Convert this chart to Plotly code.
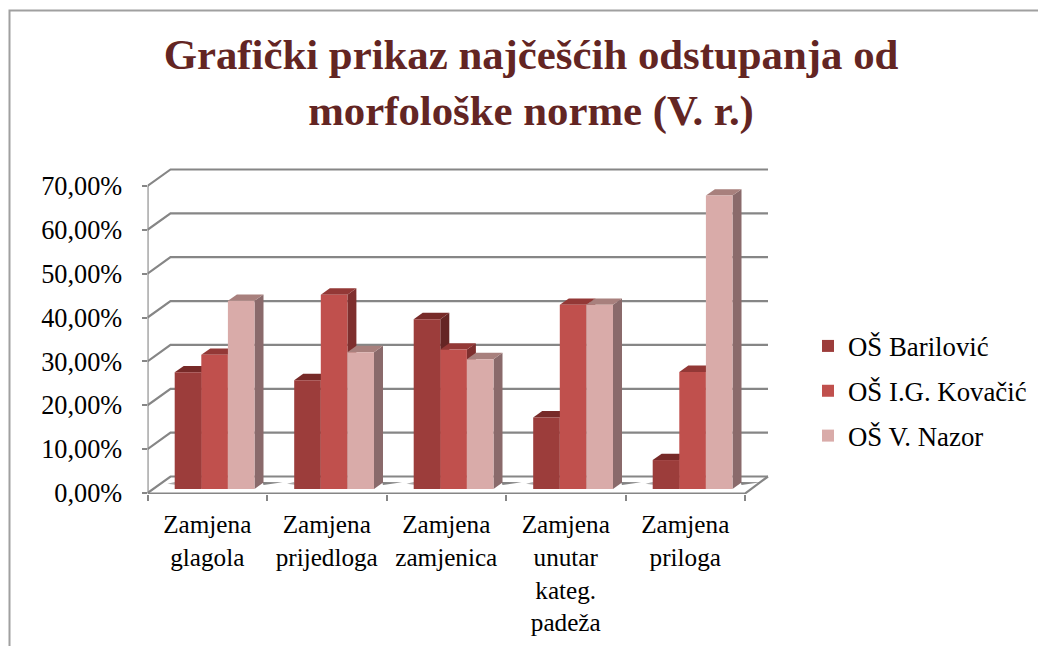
import plotly.graph_objects as go

W, H = 1038, 646

categories = ["Zamjena<br>glagola", "Zamjena<br>prijedloga", "Zamjena<br>zamjenica",
              "Zamjena<br>unutar<br>kateg.<br>padeža", "Zamjena<br>priloga"]
series_names = ["OŠ Barilović", "OŠ I.G. Kovačić", "OŠ V. Nazor"]
barilovic = [26.6, 24.8, 38.7, 16.3, 6.6]
kovacic = [30.6, 44.3, 31.8, 42.0, 26.7]
nazor = [42.9, 31.2, 29.6, 42.0, 66.9]
y_ticks = [0, 10, 20, 30, 40, 50, 60, 70]
y_tick_labels = ["0,00%", "10,00%", "20,00%", "30,00%", "40,00%", "50,00%", "60,00%", "70,00%"]

front_colors = ["#9C3D3B", "#C0504D", "#D9ABA9"]
top_colors = ["#772A28", "#933836", "#A8807D"]
side_colors = ["#652524", "#7E2F2E", "#8A6A6B"]
GRID = "#868686"
SERIF = "Liberation Serif"

# Plot frame in pixels, converted to axis units
X0_PX, PX_PER_CAT = 147.5, 119.5
Y0_PX, PX_PER_UNIT = 493.0, 4.386
LEFT, RIGHT, TOP, BOTTOM = 147.5, 775.0, 165.0, 494.0
x_range = [0, (RIGHT - LEFT) / PX_PER_CAT]
y_range = [(Y0_PX - BOTTOM) / PX_PER_UNIT, (Y0_PX - TOP) / PX_PER_UNIT]

DX = 23.0 / PX_PER_CAT     # wall depth
DY = 16.5 / PX_PER_UNIT
BAR_L = 27.2 / PX_PER_CAT  # first bar left edge inside a category
BAR_W = 26.6 / PX_PER_CAT
BASE = 4.0 / PX_PER_UNIT   # bar front baseline
BDX = 9.0 / PX_PER_CAT     # bar depth
BDY = 6.4 / PX_PER_UNIT

fig = go.Figure()
n_cat = len(categories)
all_series = [barilovic, kovacic, nazor]


def poly(xs, ys, color):
    fig.add_trace(go.Scatter(x=xs, y=ys, mode="lines", fill="toself", fillcolor=color,
                             line=dict(width=0, color=color), hoverinfo="skip", showlegend=False))


def lines(xs, ys, width=2.2):
    fig.add_trace(go.Scatter(x=xs, y=ys, mode="lines", line=dict(color=GRID, width=width),
                             hoverinfo="skip", showlegend=False))


# walls and floor
gx, gy = [], []
for v in y_ticks:
    gx += [0, DX, 5 + DX, None]
    gy += [v, v + DY, v + DY, None]
lines(gx, gy)
lines([0, 0, None, 0, 5, 5 + DX], [0, 70, None, y_range[0] + 0.1, y_range[0] + 0.1, DY])

# floor shadows
for c in range(n_cat):
    r = c + BAR_L + 3 * BAR_W
    l = c + BAR_L
    poly([r + BDX, r + BDX + 0.16, r + BDX * 0.9], [BASE + 0.9, BASE + 1.55, BASE + 1.6], "rgba(90,90,90,0.75)")
    poly([l - 0.06, l, l + 0.02], [BASE + 1.2, BASE + 1.6, BASE + 0.9], "rgba(120,120,120,0.6)")

# bar sides and tops, painted left to right
for c in range(n_cat):
    for s, vals in enumerate(all_series):
        v = vals[c]
        left = c + BAR_L + s * BAR_W
        right = left + BAR_W
        top = BASE + v
        poly([right, right + BDX, right + BDX, right, right],
             [BASE, BASE + BDY, top + BDY, top, BASE], side_colors[s])
        poly([left, left + BDX, right + BDX, right, left],
             [top, top + BDY, top + BDY, top, top], top_colors[s])

# bar front faces, on overlay axes so they sit above every side and top
for s, vals in enumerate(all_series):
    fig.add_trace(go.Bar(
        x=[c + BAR_L + (s + 0.5) * BAR_W for c in range(n_cat)],
        y=vals, base=BASE, width=BAR_W, name=series_names[s],
        marker=dict(color=front_colors[s], line=dict(width=0)),
        xaxis="x2", yaxis="y2", legendgroup=series_names[s],
    ))

fig.update_layout(
    width=W, height=H, margin=dict(l=0, r=0, t=0, b=0, autoexpand=False), autosize=False,
    paper_bgcolor="white", plot_bgcolor="rgba(0,0,0,0)",
    font=dict(family=SERIF, color="black", size=26),
    title=dict(text="Grafički prikaz najčešćih odstupanja od<br>morfološke norme (V. r.)",
               font=dict(family=SERIF, size=42.8, color="#632523", weight="bold"),
               x=531 / W, xanchor="center", y=1 - 69 / H, yanchor="top"),
    xaxis=dict(domain=[LEFT / W, RIGHT / W], range=x_range, showgrid=False, zeroline=False,
               showline=False, tickmode="array", tickvals=[0, 1, 2, 3, 4, 5], ticktext=[""] * 6,
               ticks="outside", ticklen=6, tickwidth=2, tickcolor=GRID, automargin=False),
    yaxis=dict(domain=[1 - BOTTOM / H, 1 - TOP / H], range=y_range, showgrid=False, zeroline=False,
               showline=False, tickmode="array", tickvals=y_ticks, ticktext=y_tick_labels,
               ticks="outside", ticklen=5, tickwidth=2, tickcolor=GRID, ticklabelstandoff=14,
               tickfont=dict(family=SERIF, size=26.3, color="black"), automargin=False),
    xaxis2=dict(domain=[LEFT / W, RIGHT / W], range=x_range, overlaying="x", anchor="y2", showgrid=False,
                zeroline=False, showline=False, tickmode="array",
                tickvals=[i + 0.5 for i in range(n_cat)], ticktext=categories, ticks="",
                ticklabelstandoff=13, side="bottom", tickangle=0, automargin=False,
                tickfont=dict(family=SERIF, size=25.2, color="black")),
    yaxis2=dict(domain=[1 - BOTTOM / H, 1 - TOP / H], range=y_range, overlaying="y", anchor="x2",
                showgrid=False, zeroline=False, showline=False, showticklabels=False, automargin=False),
    barmode="overlay",
    showlegend=True,
    legend=dict(x=808 / W, xanchor="left", y=1 - 322 / H, yanchor="top", tracegroupgap=7,
                bgcolor="rgba(0,0,0,0)", font=dict(family=SERIF, size=26.8, color="black"),
                traceorder="grouped"),
    shapes=[dict(type="path", xref="paper", yref="paper", line=dict(color="#A0A0A0", width=2),
                 path=f"M {9.5 / W} 0 L {9.5 / W} {1 - 10.5 / H} L 1 {1 - 10.5 / H}")],
)

fig.write_html("out.html", config={"displayModeBar": False, "responsive": False},
               post_script="document.body.style.margin='0';document.body.style.overflow='hidden';")
